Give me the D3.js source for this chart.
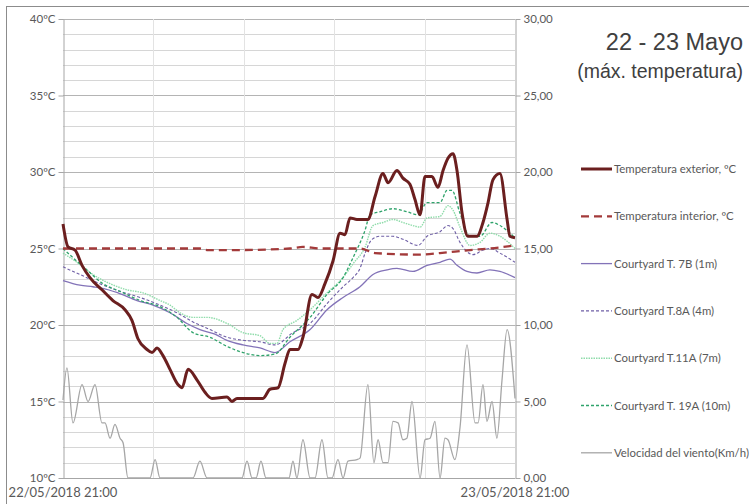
<!DOCTYPE html>
<html>
<head>
<meta charset="utf-8">
<script src="https://cdn.jsdelivr.net/npm/d3@7"></script>
<style>
  html, body { margin: 0; padding: 0; background: #fff; }
  svg { display: block; }
  text { font-family: Lato, "Open Sans", sans-serif; fill: #595959; }
</style>
</head>
<body>
<svg id="chart" width="749" height="504"></svg>
<script>
// Hours since 22/05/2018 21:00 paired with readings.
const tempExterior = [
  [0.00,26.6],[0.27,25.1],[0.64,24.9],[1.01,23.9],[1.43,23.1],[2.07,22.3],[2.65,21.6],
  [3.29,21.0],[3.66,20.3],[3.98,19.1],[4.46,18.4],[4.73,18.2],[4.99,18.5],[5.31,18.0],
  [5.68,17.1],[6.11,16.1],[6.32,15.9],[6.64,17.1],[7.12,16.4],[7.54,15.6],[7.91,15.2],
  [8.71,15.3],[8.97,15.0],[9.24,15.2],[10.62,15.2],[10.99,15.8],[11.42,15.9],[11.79,17.5],
  [12.05,18.4],[12.48,18.4],[12.74,19.2],[13.22,22.0],[13.54,21.8],[13.91,22.7],[14.34,24.2],
  [14.71,26.0],[14.97,25.9],[15.24,27.0],[15.61,26.9],[16.19,26.9],[16.57,28.4],[16.99,29.9],
  [17.26,29.3],[17.73,30.1],[18.05,29.6],[18.42,29.2],[18.69,28.2],[18.96,27.2],[19.22,29.7],
  [19.59,29.7],[19.91,29.0],[20.18,30.1],[20.44,30.9],[20.71,31.2],[20.92,30.1],[21.19,27.3],
  [21.50,25.8],[21.98,25.8],[22.30,26.7],[22.57,28.0],[22.83,29.5],[23.20,29.9],[23.58,26.9],
  [23.73,25.8],[24.00,25.7]
];
const tempInterior = [
  [0.00,25.0],[7.27,25.0],[7.65,24.9],[9.40,24.9],[12.05,25.0],[12.74,25.1],[13.65,25.0],
  [15.77,25.0],[16.57,24.7],[18.96,24.6],[20.02,24.7],[21.61,24.9],[22.67,25.0],[24.00,25.2]
];
const courtyard7B = [
  [0.00,22.9],[0.90,22.6],[1.59,22.5],[2.12,22.4],[2.92,22.1],[3.93,21.6],[4.78,21.3],
  [5.68,20.8],[6.58,20.1],[7.27,19.7],[8.07,19.4],[8.71,19.0],[9.56,18.7],[10.46,18.5],
  [11.26,18.2],[12.05,18.9],[13.12,19.7],[14.02,21.0],[14.87,21.8],[15.77,22.5],[16.46,23.3],
  [17.20,23.6],[17.73,23.7],[18.58,23.5],[19.33,23.9],[20.02,24.1],[20.55,24.3],[20.92,23.9],
  [21.45,23.5],[21.98,23.4],[22.67,23.6],[23.20,23.5],[24.00,23.1]
];
const courtyard8A = [
  [0.00,23.8],[0.90,23.3],[1.96,22.7],[3.03,22.2],[4.09,21.8],[5.15,21.3],[6.05,20.8],
  [6.90,20.2],[7.80,19.7],[8.71,19.2],[9.56,19.0],[10.46,18.9],[11.26,18.7],[12.21,19.5],
  [13.12,20.1],[14.02,21.4],[14.87,22.5],[15.40,23.1],[15.77,23.7],[16.04,24.7],[16.41,25.6],
  [16.83,25.8],[17.52,25.8],[18.05,25.6],[18.85,25.2],[19.33,25.8],[20.02,26.1],[20.44,26.5],
  [20.71,26.3],[21.08,25.4],[21.77,24.6],[22.30,24.9],[22.67,25.0],[23.20,24.7],[24.00,24.1]
];
const courtyard11A = [
  [0.00,24.7],[0.74,24.1],[1.59,23.3],[2.50,22.7],[3.40,22.3],[4.25,22.1],[5.15,21.6],
  [5.68,21.3],[6.21,20.8],[6.90,20.5],[7.65,20.5],[8.71,20.1],[9.56,19.5],[10.46,19.3],
  [10.99,18.8],[11.36,18.8],[11.68,19.7],[12.42,20.3],[13.12,21.0],[14.02,22.1],[14.87,23.1],
  [15.40,24.0],[16.04,25.1],[16.46,26.5],[16.99,26.7],[17.52,26.9],[18.05,26.7],[18.58,26.5],
  [18.96,26.4],[19.33,27.0],[20.02,27.1],[20.44,27.8],[20.71,27.5],[21.08,26.4],[21.61,25.2],
  [22.14,25.4],[22.67,26.0],[23.20,25.8],[24.00,25.0]
];
const courtyard19A = [
  [0.00,25.0],[0.53,24.4],[1.27,23.6],[2.12,22.7],[3.03,22.2],[4.09,21.6],[5.15,21.2],
  [6.05,20.5],[6.90,19.5],[7.80,19.2],[8.71,18.6],[9.56,18.2],[10.46,18.0],[11.26,18.1],
  [12.05,19.2],[13.12,20.5],[14.02,22.0],[14.87,23.1],[15.40,24.4],[16.04,26.2],[16.30,27.2],
  [16.83,27.4],[17.52,27.6],[18.26,27.4],[18.85,27.2],[19.33,28.0],[20.02,28.0],[20.39,28.8],
  [20.65,28.8],[21.08,27.3],[21.61,25.8],[22.14,25.8],[22.78,26.7],[23.20,26.5],[24.00,25.7]
];
const windSpeed = [
  [0.00,5.1],[0.21,7.2],[0.53,3.6],[1.01,6.1],[1.33,5.0],[1.70,6.1],[2.07,3.6],[2.23,3.6],
  [2.50,2.6],[2.76,3.5],[3.03,2.6],[3.19,2.3],[3.45,0],[4.62,0],[4.89,1.2],[5.15,0],
  [6.90,0],[7.27,1.1],[7.65,0],[9.50,0],[9.77,1.1],[10.04,0],[10.25,0],[10.51,1.1],[10.78,0],
  [12.00,0],[12.21,1.1],[12.42,0],[12.74,2.5],[13.12,0],[13.38,0],[13.75,2.5],[14.07,0],
  [14.28,0],[14.60,1.2],[14.87,0],[15.13,1.1],[15.61,1.2],[15.77,1.3],[16.19,6.1],[16.51,1.0],
  [16.73,2.5],[16.99,1.0],[17.26,1.0],[17.52,3.7],[17.79,3.6],[18.05,2.5],[18.26,2.6],
  [18.53,5.0],[18.96,0],[19.22,2.5],[19.49,2.6],[19.75,3.7],[20.02,0],[20.28,2.6],[20.44,2.5],
  [20.81,1.2],[21.08,3.3],[21.45,8.7],[21.88,3.6],[22.04,3.6],[22.30,6.1],[22.51,3.7],
  [22.78,5.0],[23.04,2.6],[23.31,6.4],[23.58,9.7],[24.00,5.2]
];

const tempTicks = [10, 15, 20, 25, 30, 35, 40];
const windTicks = [0, 5, 10, 15, 20, 25, 30];
const dateLabels = ["22/05/2018 21:00", "23/05/2018 21:00"];
const titleLines = ["22 - 23 Mayo", "(máx. temperatura)"];
const legendNames = [
  "Temperatura exterior, ºC",
  "Temperatura interior, ºC",
  "Courtyard T. 7B (1m)",
  "Courtyard T.8A (4m)",
  "Courtyard T.11A (7m)",
  "Courtyard T. 19A (10m)",
  "Velocidad del viento(Km/h)"
];

const svg = d3.select("#chart");
const L = 63, R = 515, T = 19, B = 478;

const x = d3.scaleLinear().domain([0, 24]).range([L, R]);
const yT = d3.scaleLinear().domain([10, 40]).range([B, T]);
const yW = d3.scaleLinear().domain([0, 30]).range([B, T]);

// outer frame
svg.append("rect").attr("x", 6.5).attr("y", 6.5).attr("width", 760).attr("height", 520)
  .attr("fill", "none").attr("stroke", "#8c8c8c").attr("stroke-width", 1);

// horizontal gridlines every 1 ºC, darker at labelled values
const grid = svg.append("g");
grid.selectAll("line.h").data(d3.range(11, 41)).join("line")
  .attr("x1", L).attr("x2", R)
  .attr("y1", d => Math.round(yT(d)) + 0.5).attr("y2", d => Math.round(yT(d)) + 0.5)
  .attr("stroke", d => d % 5 === 0 ? "#b4b4b4" : "#d6d6d6").attr("stroke-width", 1);
// vertical gridlines
grid.selectAll("line.v").data(d3.range(1, 5).map(i => i * 4.8)).join("line")
  .attr("x1", d => Math.round(x(d)) + 0.5).attr("x2", d => Math.round(x(d)) + 0.5)
  .attr("y1", T).attr("y2", B)
  .attr("stroke", "#e3e3e3").attr("stroke-width", 1);

// axes
function styleAxis(g) {
  g.select(".domain").attr("stroke", "#a6a6a6");
  g.selectAll(".tick line").attr("stroke", "#a6a6a6");
  g.selectAll(".tick text").attr("fill", "#595959").style("font-size", "11.5px")
    .style("font-family", "Lato, 'Open Sans', sans-serif");
}
svg.append("g").attr("transform", `translate(${L + 0.5},0)`)
  .call(d3.axisLeft(yT).tickValues(tempTicks).tickFormat(d => d + "ºC").tickSize(5).tickPadding(3).tickSizeOuter(0))
  .call(styleAxis);
svg.append("g").attr("transform", `translate(${R + 0.5},0)`)
  .call(d3.axisRight(yW).tickValues(windTicks).tickFormat(d => d3.format(".2f")(d).replace(".", ",")).tickSize(5).tickPadding(3).tickSizeOuter(0))
  .call(styleAxis);
svg.append("line").attr("x1", L).attr("x2", R).attr("y1", B + 0.5).attr("y2", B + 0.5)
  .attr("stroke", "#a6a6a6");

// date labels at both ends of the time axis
svg.selectAll("text.date").data(dateLabels).join("text")
  .attr("x", (d, i) => x(i * 24)).attr("y", 497)
  .attr("text-anchor", "middle").style("font-size", "13px").text(d => d);

// series styles
const series = [
  { data: windSpeed, y: yW, color: "#a6a6a6", width: 1.3, dash: null },
  { data: courtyard7B, y: yT, color: "#8373b8", width: 1.3, dash: null },
  { data: courtyard8A, y: yT, color: "#6f5fa6", width: 1.1, dash: "3,2" },
  { data: courtyard11A, y: yT, color: "#8fdcaa", width: 1.4, dash: "1.5,1" },
  { data: courtyard19A, y: yT, color: "#2fa36b", width: 1.3, dash: "3,2" },
  { data: tempInterior, y: yT, color: "#a33a3a", width: 2.3, dash: "8,5" },
  { data: tempExterior, y: yT, color: "#6b1f1f", width: 3, dash: null }
];
const plot = svg.append("g");
series.forEach(s => {
  const line = d3.line().x(d => x(d[0])).y(d => s.y(d[1])).curve(d3.curveMonotoneX);
  plot.append("path").datum(s.data).attr("d", line)
    .attr("fill", "none").attr("stroke", s.color).attr("stroke-width", s.width)
    .attr("stroke-dasharray", s.dash).attr("stroke-linejoin", "round");
});

// legend
const legendStyles = [series[6], series[5], series[1], series[2], series[3], series[4], series[0]];
const lg = svg.append("g");
legendNames.forEach((name, i) => {
  const cy = 169 + i * 47.3;
  const s = legendStyles[i];
  lg.append("line").attr("x1", 581).attr("x2", 612).attr("y1", cy).attr("y2", cy)
    .attr("stroke", s.color).attr("stroke-width", s.width).attr("stroke-dasharray", s.dash);
  lg.append("text").attr("x", 614).attr("y", cy + 4).style("font-size", "11.4px").text(name);
});

// title
svg.selectAll("text.title").data(titleLines).join("text")
  .attr("x", 743).attr("y", (d, i) => i === 0 ? 50 : 78)
  .attr("text-anchor", "end")
  .style("font-family", "'Liberation Sans', Arial, sans-serif")
  .style("font-size", (d, i) => i === 0 ? "23.5px" : "19.5px")
  .style("fill", "#404040")
  .text(d => d);
</script>
</body>
</html>
